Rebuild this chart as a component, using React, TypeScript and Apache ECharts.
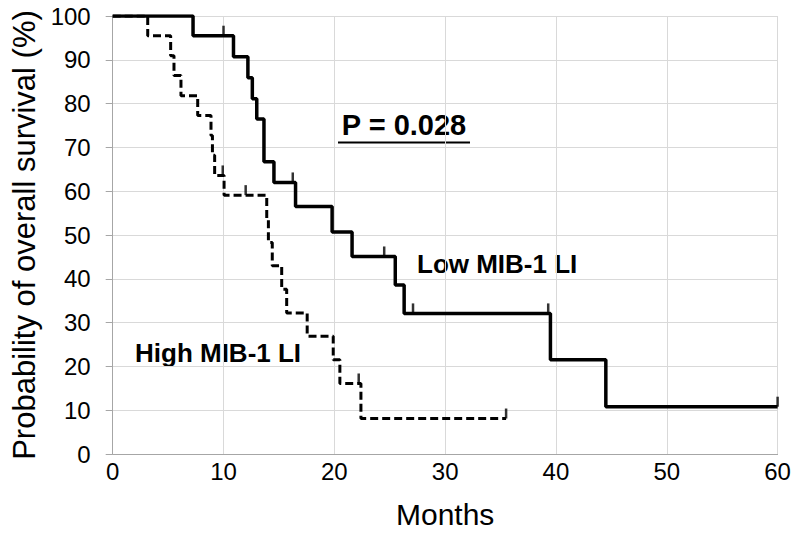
import React, { useEffect, useRef } from "react";
import * as echarts from "echarts";

// Kaplan-Meier step points [months, survival %] (value holds from this time on)
const lowMonths = [0, 7.25, 10.9, 12.2, 12.6, 13.0, 13.65, 14.55, 16.5, 19.8, 21.6, 25.5, 26.3, 39.5, 44.5, 60];
const lowSurv = [100, 95.5, 90.7, 85.9, 81.1, 76.5, 66.7, 62.0, 56.5, 50.7, 45.1, 38.6, 32.1, 21.5, 10.8, 10.8];
const lowCensorMonths = [10.0, 16.25, 24.5, 27.1, 39.3, 60];
const lowCensorSurv = [95.5, 62.0, 45.1, 32.1, 32.1, 10.8];

const highMonths = [0, 3.16, 5.23, 5.53, 6.16, 7.67, 8.87, 9.0, 9.2, 10.05, 13.9, 14.05, 14.4, 15.25, 15.7, 17.55, 19.9, 20.5, 22.4, 35.5];
const highSurv = [100, 95.5, 90.9, 86.4, 81.8, 77.3, 72.7, 68.2, 63.6, 59.1, 53.7, 48.3, 43.0, 37.6, 32.2, 26.9, 21.5, 16.1, 8.1, 8.1];
const highCensorMonths = [9.93, 12.0, 22.2, 35.5];
const highCensorSurv = [63.6, 59.1, 16.1, 8.1];

const yTicks = [0, 10, 20, 30, 40, 50, 60, 70, 80, 90, 100];
const xTicks = [0, 10, 20, 30, 40, 50, 60];

const pValueText = "P = 0.028";
const lowLabel = "Low MIB-1 LI";
const highLabel = "High MIB-1 LI";

const FONT = "'Liberation Sans', Arial, sans-serif";

export default function App() {
  const ref = useRef<HTMLDivElement>(null);
  useEffect(() => {
    if (!ref.current) return;
    const chart = echarts.init(ref.current, null, { renderer: "svg" });
    const zip = (a: number[], b: number[]) => a.map((v, i) => [v, b[i]]);
    const censorSymbol = {
      type: "scatter",
      symbol: "rect",
      symbolSize: [2.5, 10],
      symbolOffset: [0, -5],
      itemStyle: { color: "#000" },
      silent: true,
      z: 5,
    };
    chart.setOption({
      animation: false,
      grid: { left: 112.7, right: 19.4, top: 16, bottom: 78 },
      xAxis: {
        type: "value",
        min: xTicks[0],
        max: xTicks[xTicks.length - 1],
        interval: 10,
        name: "Months",
        nameLocation: "middle",
        nameGap: 45,
        nameTextStyle: { fontSize: 30, color: "#000", fontFamily: FONT },
        axisLine: { lineStyle: { color: "#a6a6a6", width: 1 } },
        axisTick: { show: false },
        axisLabel: { fontSize: 24, color: "#000", fontFamily: FONT, margin: 5 },
        splitLine: { lineStyle: { color: "#d9d9d9", width: 1 } },
      },
      yAxis: {
        type: "value",
        min: yTicks[0],
        max: yTicks[yTicks.length - 1],
        interval: 10,
        name: "Probability of overall survival (%)",
        nameLocation: "middle",
        nameGap: 72,
        nameTextStyle: { fontSize: 31, color: "#000", fontFamily: FONT },
        axisLine: { show: true, lineStyle: { color: "#a6a6a6", width: 1 } },
        axisTick: { show: true, length: 7, lineStyle: { color: "#a6a6a6" } },
        axisLabel: { fontSize: 24, color: "#000", fontFamily: FONT, margin: 22 },
        splitLine: { lineStyle: { color: "#d9d9d9", width: 1 } },
      },
      series: [
        {
          type: "line",
          step: "end",
          data: zip(lowMonths, lowSurv),
          showSymbol: false,
          lineStyle: { color: "#000", width: 3.5 },
          z: 4,
        },
        {
          type: "line",
          step: "end",
          data: zip(highMonths, highSurv),
          showSymbol: false,
          lineStyle: { color: "#000", width: 3, type: [8, 4] },
          z: 4,
        },
        { ...censorSymbol, data: zip(lowCensorMonths, lowCensorSurv) },
        { ...censorSymbol, data: zip(highCensorMonths, highCensorSurv) },
      ],
      graphic: [
        {
          type: "text",
          x: 404,
          y: 139,
          style: {
            text: pValueText,
            font: `bold 29px ${FONT}`,
            fill: "#000",
            align: "center",
            verticalAlign: "bottom",
          },
        },
        {
          type: "line",
          shape: { x1: 338, y1: 142.5, x2: 470, y2: 142.5 },
          style: { stroke: "#000", lineWidth: 2 },
        },
        {
          type: "text",
          x: 417,
          y: 277,
          style: {
            text: lowLabel,
            font: `bold 26px ${FONT}`,
            fill: "#000",
            align: "left",
            verticalAlign: "bottom",
          },
        },
        {
          type: "text",
          x: 135,
          y: 366,
          style: {
            text: highLabel,
            font: `bold 26px ${FONT}`,
            fill: "#000",
            align: "left",
            verticalAlign: "bottom",
          },
        },
      ],
    });
    return () => chart.dispose();
  }, []);
  return (
    <div
      ref={ref}
      style={{ position: "absolute", left: 0, top: 0, width: 797, height: 534 }}
    />
  );
}
